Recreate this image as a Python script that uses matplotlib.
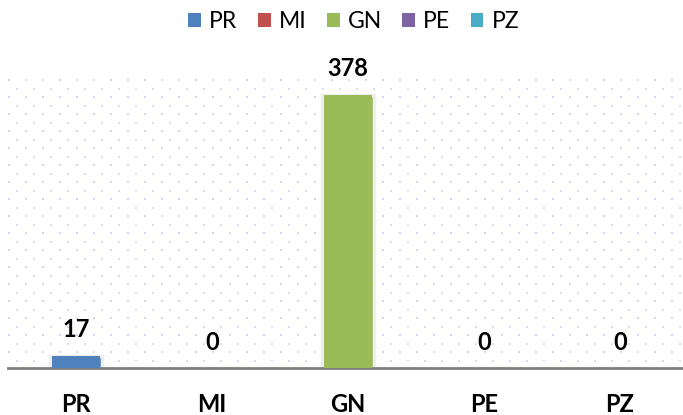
import numpy as np
import matplotlib
matplotlib.use("Agg")
import matplotlib.pyplot as plt
from matplotlib.patches import Patch

plt.rcParams['font.family'] = ['Lato', 'DejaVu Sans']

categories = ["PR", "MI", "GN", "PE", "PZ"]
values = [17, 0, 378, 0, 0]
colors = ["#4F81BD", "#C0504D", "#9BBB59", "#8064A2", "#4BACC6"]

fig = plt.figure(figsize=(6.83, 4.15), dpi=100)
ax = fig.add_axes([8 / 683, 1 - 368 / 415, 675 / 683, (368 - 79) / 415])

x = np.arange(len(categories))
ax.set_xlim(-0.5, 4.5 - 5 / 136)
ax.set_ylim(0, 400)

# dotted background pattern
gx = np.arange(-0.493, 4.5, 0.125)
gy = np.arange(398, 0, -23.5)
X, Y = np.meshgrid(gx, gy)
ax.scatter(X.ravel(), Y.ravel(), s=4, marker='s', color="#c8dbf2", lw=0, zorder=0)
X2, Y2 = np.meshgrid(gx + 0.0625, gy - 11.75)
ax.scatter(X2.ravel(), Y2.ravel(), s=1.6, marker='s', color="#d0e1f5", lw=0, zorder=0)

ax.bar(x, values, width=0.38, color=colors, edgecolor="#eeeeee", linewidth=2.5, zorder=2)
ax.bar(x, values, width=0.36, color=colors, zorder=3)

for i, v in enumerate(values):
    ax.annotate(str(v), (i, v), xytext=(0, 26), textcoords='offset pixels',
                ha='center', va='center', fontsize=17, fontweight='bold', color='black')

for s in ["top", "right", "left"]:
    ax.spines[s].set_visible(False)
ax.spines["bottom"].set_color("#808080")
ax.spines["bottom"].set_linewidth(2)
ax.set_yticks([])
ax.set_xticks(x)
ax.set_xticklabels(categories, fontsize=17, fontweight='bold')
ax.tick_params(axis='x', length=0, pad=18)

handles = [Patch(facecolor=c, edgecolor='none') for c in colors]
fig.legend(handles, categories, loc='center', bbox_to_anchor=(0.518, 0.947), ncol=5,
           frameon=False, fontsize=16.5, handlelength=0.55, handleheight=0.55,
           handletextpad=0.35, columnspacing=0.9)

fig.savefig("out.png", dpi=100)
